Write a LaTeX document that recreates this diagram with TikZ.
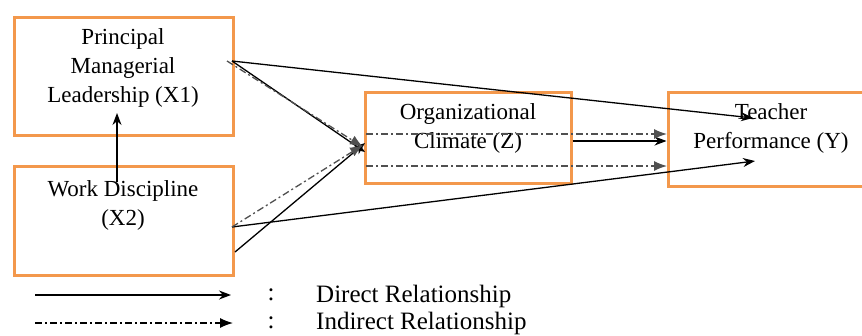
\documentclass[tikz,border=0pt]{standalone}
\usepackage{fontspec}
\setmainfont{Liberation Serif}
\usetikzlibrary{arrows.meta}
\definecolor{boxorange}{RGB}{243,152,76}
\definecolor{dashgray}{RGB}{80,80,80}
\tikzset{
  varbox/.style={draw=boxorange, line width=3pt, fill=white, inner sep=0pt},
  varlbl/.style={align=center, font=\fontsize{23}{29}\selectfont, inner sep=0pt},
  leglbl/.style={font=\fontsize{25}{29}\selectfont, inner sep=0pt},
  direct/.style={line width=1.3pt, -{Stealth[length=12pt,width=9pt]}},
  indirect/.style={line width=1.3pt, dashgray, dash pattern=on 7pt off 3pt on 2pt off 3pt, -{Latex[length=13pt,width=10pt]}}
}
\begin{document}
\begin{tikzpicture}[x=1pt, y=-1pt]
    \useasboundingbox (0,0) rectangle (862,335);
    % Principal Managerial Leadership
    \node[varbox, minimum width=219, minimum height=118] (x1) at (123.5,76) {};
    \node[varlbl] (x1lbl) at (123,68) {Principal\\Managerial\\Leadership (X1)};
    % Work Discipline
    \node[varbox, minimum width=219, minimum height=109] (x2) at (123.5,220.5) {};
    \node[varlbl] (x2lbl) at (123,205) {Work Discipline\\(X2)};
    % Organizational Climate
    \node[varbox, minimum width=206, minimum height=91] (z) at (468,137.5) {};
    \node[varlbl] (zlbl) at (468,128) {Organizational\\Climate (Z)};
    % Teacher Performance (runs past the right edge)
    \node[varbox, minimum width=204, minimum height=94] (y) at (770,139) {};
    \node[varlbl] (ylbl) at (771,128) {Teacher\\Performance (Y)};
    % start and end points
    \coordinate (x1out) at (232,61);
    \coordinate (x1dash) at (227,61);
    \coordinate (x2out) at (232,227);
    \coordinate (x2low) at (235,252);
    \coordinate (zin1) at (365,152);
    \coordinate (zin2) at (363,147);
    \coordinate (zin3) at (365,143);
    \coordinate (zin4) at (363,145);
    \coordinate (ytop) at (753,118);
    \coordinate (ybot) at (755,161);
    \coordinate (zdash1) at (366,134);
    \coordinate (ydash1) at (667,134);
    \coordinate (zdash2) at (366,166);
    \coordinate (ydash2) at (667,166);
    \coordinate (x2up) at (117,182);
    \coordinate (x1up) at (117,113);
    % X2 -> X1
    \draw[direct] (x2up) -- (x1up);
    % direct paths
    \draw[direct] (x1out) -- (ytop);
    \draw[direct] (x1out) -- (zin1);
    \draw[direct] (x2out) -- (ybot);
    \draw[direct] (x2low) -- (zin3);
    \draw[direct] (z.east |- 0,141) -- (y.west |- 0,141);
    % indirect paths
    \draw[indirect] (x1dash) -- (zin2);
    \draw[indirect] (x2out) -- (zin4);
    \draw[indirect] (zdash1) -- (ydash1);
    \draw[indirect] (zdash2) -- (ydash2);
    % Legend
    \coordinate (leg1a) at (35,295);
    \coordinate (leg1b) at (231,295);
    \coordinate (leg2a) at (35,323);
    \coordinate (leg2b) at (233,323);
    \draw[direct] (leg1a) -- (leg1b);
    \draw[indirect, black] (leg2a) -- (leg2b);
    \node[leglbl] (col1) at (271,295) {:};
    \node[leglbl] (col2) at (271,323) {:};
    \node[leglbl, anchor=west] (dirlbl) at (316,296) {Direct Relationship};
    \node[leglbl, anchor=west] (indlbl) at (316,323) {Indirect Relationship};
\end{tikzpicture}
\end{document}
